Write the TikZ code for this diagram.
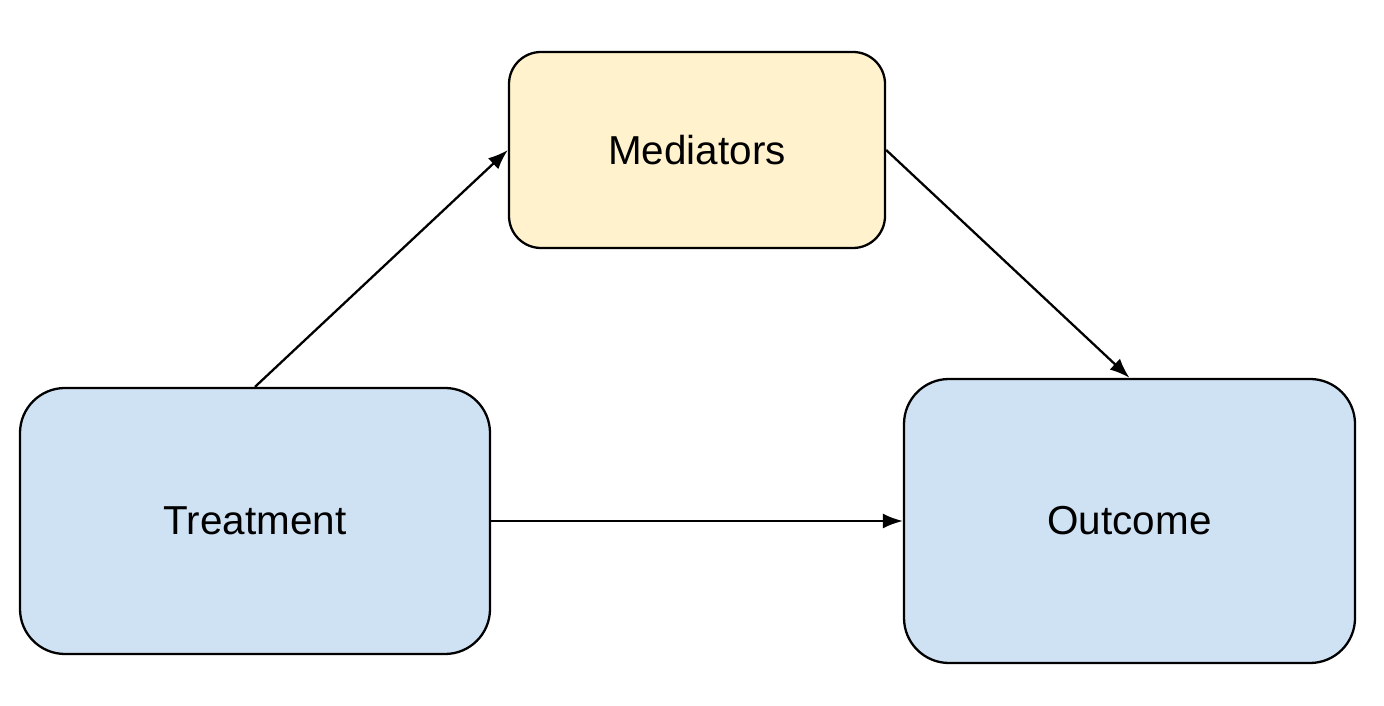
\documentclass[tikz,border=0pt]{standalone}
\usepackage{fontspec}
\setmainfont{Liberation Sans}
\usetikzlibrary{arrows.meta}
\definecolor{boxblue}{HTML}{CFE2F3}
\definecolor{boxyellow}{HTML}{FFF2CC}

\begin{document}
\begin{tikzpicture} [scale = 1, font = \fontsize{11.5}{14}\selectfont,
  var/.style = {draw = black, line width = 0.65pt, align = center},
  link/.style = {black, line width = 0.65pt, -{Latex[length = 0.2cm, width = 0.15cm]}}]
\useasboundingbox (0, 0) rectangle (13.84, 7.05);
\node[var, fill = boxblue, rounded corners = 0.45cm, minimum width = 4.7cm, minimum height = 2.66cm] (treatment) at (2.55, 1.84){Treatment};
\node[var, fill = boxyellow, rounded corners = 0.32cm, minimum width = 3.76cm, minimum height = 1.96cm] (mediators) at (6.97, 5.55){Mediators};
\node[var, fill = boxblue, rounded corners = 0.45cm, minimum width = 4.51cm, minimum height = 2.84cm] (outcome) at (11.295, 1.84){Outcome};
\draw[link] (treatment.north) -- (mediators.west);
\draw[link] (mediators.east) -- (outcome.north);
\draw[link] (treatment.east) -- (outcome.west);
\end{tikzpicture}
\end{document}
